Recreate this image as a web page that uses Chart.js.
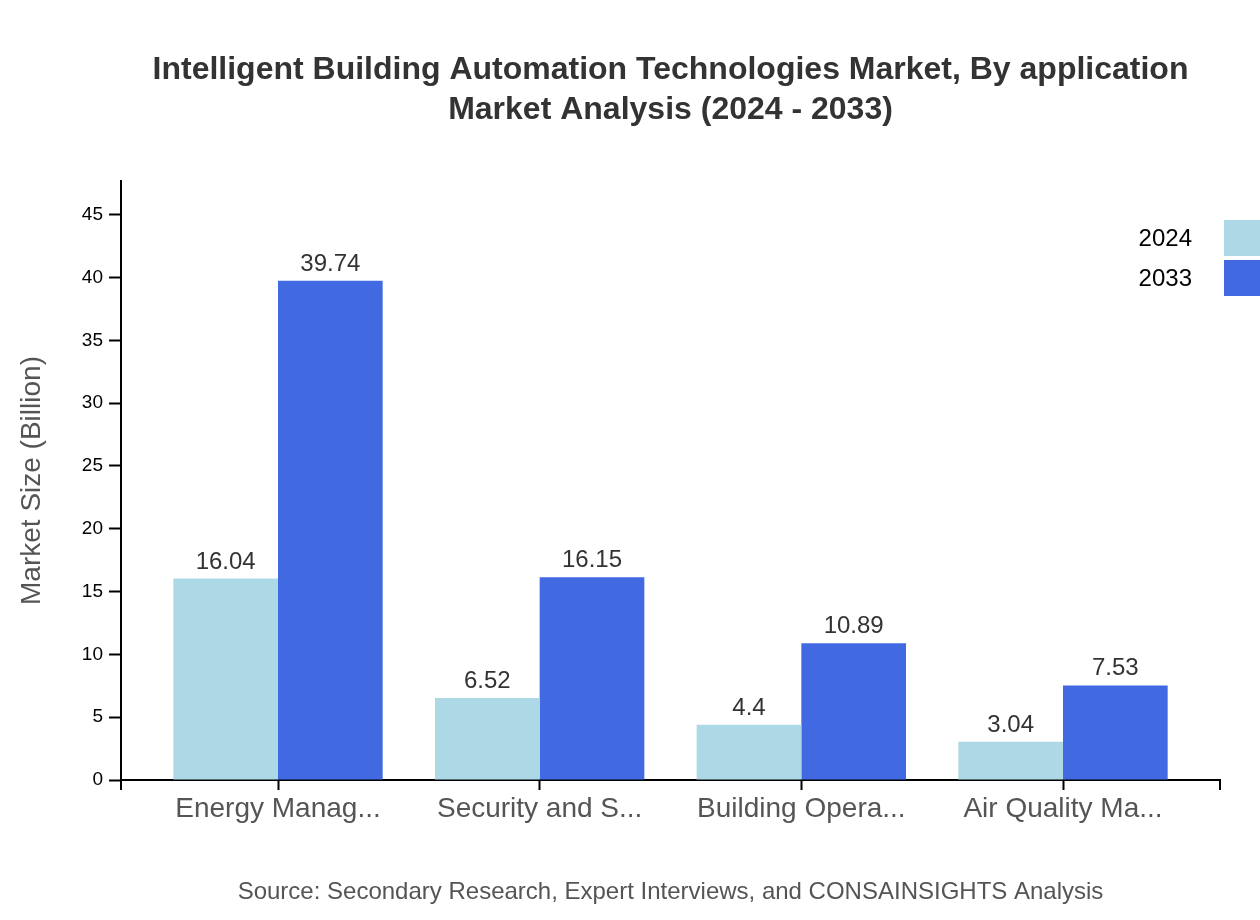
<!DOCTYPE html>
<html>
<head>
<meta charset="utf-8">
<script src="https://cdn.jsdelivr.net/npm/chart.js@4.4.1/dist/chart.umd.min.js"></script>
<style>
  html, body { margin: 0; padding: 0; background: #fff; }
  #wrap { width: 1260px; height: 920px; position: relative; }
</style>
</head>
<body>
<div id="wrap"><canvas id="chart" width="1260" height="920"></canvas></div>
<script>
const categories = ['Energy Manag...', 'Security and S...', 'Building Opera...', 'Air Quality Ma...'];
const seriesNames = ['2024', '2033'];
const values2024 = [16.04, 6.52, 4.4, 3.04];
const values2033 = [39.74, 16.15, 10.89, 7.53];
const yTicks = [0, 5, 10, 15, 20, 25, 30, 35, 40, 45];
const colors = ['#ADD8E6', '#4169E1'];

const FONT = "'Liberation Sans', Arial, sans-serif";
const yMax = Math.max(...values2024, ...values2033) * 1.2;

// titles, legend, value labels and axis end ticks drawn on top of the chart
const decorations = {
    id: 'decorations',
    afterDatasetsDraw(chart) {
        const ctx = chart.ctx;
        ctx.save();
        ctx.textAlign = 'center';
        ctx.textBaseline = 'alphabetic';
        ctx.fillStyle = '#333';
        ctx.font = '24px ' + FONT;
        chart.data.datasets.forEach((ds, di) => {
            chart.getDatasetMeta(di).data.forEach((bar, i) => {
                ctx.fillText(String(ds.data[i].y), bar.x, bar.y - 10);
            });
        });
        ctx.restore();
    },
    afterDraw(chart) {
        const ctx = chart.ctx;
        const area = chart.chartArea;
        const cx = (area.left + area.right) / 2;
        ctx.save();

        // outer ticks at both ends of the x axis
        ctx.strokeStyle = '#000';
        ctx.lineWidth = 2;
        ctx.beginPath();
        [area.left, area.right].forEach(x => {
            ctx.moveTo(x, area.bottom);
            ctx.lineTo(x, area.bottom + 10);
        });
        ctx.stroke();

        ctx.textAlign = 'center';
        ctx.textBaseline = 'middle';
        ctx.fillStyle = '#333';
        ctx.font = 'bold 32px ' + FONT;
        ctx.fillText('Intelligent Building Automation Technologies Market, By application', cx, 70);
        ctx.fillText('Market Analysis (2024 - 2033)', cx, 110);

        ctx.fillStyle = '#555';
        ctx.font = '24px ' + FONT;
        ctx.fillText('Source: Secondary Research, Expert Interviews, and CONSAINSIGHTS Analysis', cx, 892);

        // legend
        ctx.textAlign = 'right';
        ctx.font = '24px ' + FONT;
        seriesNames.forEach((name, i) => {
            const top = 220 + i * 40;
            ctx.fillStyle = colors[i];
            ctx.fillRect(1224, top, 40, 36);
            ctx.fillStyle = '#000';
            ctx.fillText(name, 1192, top + 19);
        });
        ctx.restore();
    }
};

new Chart(document.getElementById('chart'), {
    type: 'bar',
    data: {
        datasets: [
            { label: seriesNames[0], data: values2024.map((v, i) => ({ x: i, y: v })), backgroundColor: colors[0] },
            { label: seriesNames[1], data: values2033.map((v, i) => ({ x: i, y: v })), backgroundColor: colors[1] }
        ]
    },
    options: {
        responsive: false,
        animation: false,
        layout: { padding: { top: 181, right: 40, bottom: 0, left: 0 } },
        datasets: { bar: { categoryPercentage: 0.8, barPercentage: 1.0, borderWidth: 0 } },
        plugins: {
            legend: { display: false },
            tooltip: { enabled: false },
            title: { display: false }
        },
        scales: {
            x: {
                type: 'linear',
                offset: false,
                min: -0.6,
                max: 3.6,
                afterBuildTicks: s => { s.ticks = categories.map((c, i) => ({ value: i })); },
                afterFit: s => { s.height = 140; },
                ticks: {
                    autoSkip: false,
                    maxRotation: 0,
                    padding: 2,
                    color: '#555',
                    font: { family: FONT, size: 28 },
                    callback: v => categories[v]
                },
                grid: { offset: false, drawOnChartArea: false, drawTicks: true, tickLength: 10, tickWidth: 2, tickColor: '#000' },
                border: { display: true, color: '#000', width: 2 }
            },
            y: {
                min: 0,
                max: yMax,
                afterBuildTicks: s => { s.ticks = yTicks.map(v => ({ value: v })); },
                afterFit: s => { s.width = 121; },
                ticks: {
                    color: '#000',
                    padding: 6,
                    font: { family: FONT, size: 19 }
                },
                grid: { drawOnChartArea: false, drawTicks: true, tickLength: 12, tickWidth: 2, tickColor: '#000' },
                border: { display: true, color: '#000', width: 2 },
                title: {
                    display: true,
                    text: 'Market Size (Billion)',
                    color: '#555',
                    font: { family: FONT, size: 28 },
                    padding: { top: 15, bottom: 0 }
                }
            }
        }
    },
    plugins: [decorations]
});
</script>
</body>
</html>
